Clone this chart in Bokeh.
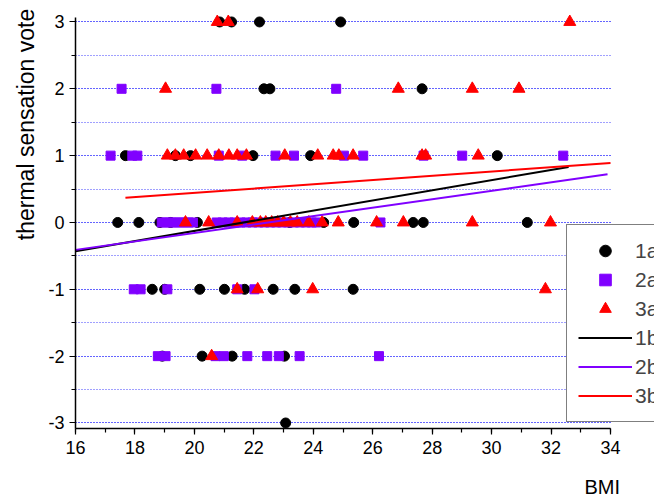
import math
from bokeh.plotting import figure
from bokeh.models import (Legend, LegendItem, Label, SingleIntervalTicker, Range1d,
                          PrintfTickFormatter)
from bokeh.embed import file_html
from bokeh.resources import INLINE

# ---- data ----
bmi_1a = [20.85, 21.25, 22.19, 24.92,
          22.34, 22.54, 27.66,
          17.68, 19.36, 19.87, 21.97, 23.91, 30.19,
          17.42, 18.13, 18.84, 19.2, 20.1, 23.21, 24.35, 25.36, 27.36, 27.70, 31.2,
          18.58, 19.0, 20.18, 21.01, 21.69, 22.65, 23.38, 25.34,
          18.92, 20.26, 21.27, 23.03,
          23.07]
tsv_1a = [3, 3, 3, 3,
          2, 2, 2,
          1, 1, 1, 1, 1, 1,
          0, 0, 0, 0, 0, 0, 0, 0, 0, 0, 0,
          -1, -1, -1, -1, -1, -1, -1, -1,
          -2, -2, -2, -2,
          -3]

bmi_2a = [17.55, 20.74, 24.77,
          17.18, 17.91, 18.08, 20.82, 21.61, 22.73, 23.35, 25.03, 25.68, 27.71, 29.01, 32.41,
          18.9, 19.05, 19.2, 19.35, 19.5, 19.65, 19.8, 19.95,
          20.75, 20.95, 21.15, 21.35, 21.55, 21.75, 21.95, 22.15, 22.35, 22.55, 22.75,
          22.95, 23.15, 23.35, 23.55, 23.75, 23.95, 24.1, 26.26,
          17.96, 18.19, 19.09, 21.44, 22.02,
          18.77, 19.03, 20.71, 20.99, 21.78, 22.45, 22.84, 23.54, 26.21]
tsv_2a = [2, 2, 2,
          1, 1, 1, 1, 1, 1, 1, 1, 1, 1, 1, 1,
          0, 0, 0, 0, 0, 0, 0, 0,
          0, 0, 0, 0, 0, 0, 0, 0, 0, 0, 0,
          0, 0, 0, 0, 0, 0, 0, 0,
          -1, -1, -1, -1, -1,
          -2, -2, -2, -2, -2, -2, -2, -2, -2]

bmi_3a = [20.77, 21.14, 32.63,
          19.03, 26.86, 29.35, 30.92,
          19.09, 19.36, 19.64, 20.04, 20.43, 20.82, 21.16, 21.44, 21.75, 23.04,
          24.15, 24.67, 24.86, 25.34, 27.66, 27.78, 29.55,
          19.7, 20.48, 21.44, 21.95, 22.22, 22.4, 22.6, 22.8, 23.0, 23.23, 23.46,
          23.85, 24.3, 24.84, 26.13, 27.03, 29.35, 31.98,
          21.44, 22.13, 23.98, 31.81,
          20.58]
tsv_3a = [3, 3, 3,
          2, 2, 2, 2,
          1, 1, 1, 1, 1, 1, 1, 1, 1, 1,
          1, 1, 1, 1, 1, 1, 1,
          0, 0, 0, 0, 0, 0, 0, 0, 0, 0, 0,
          0, 0, 0, 0, 0, 0, 0,
          -1, -1, -1, -1,
          -2]

fit_1b_x = [16.0, 32.59]
fit_1b_y = [-0.43, 0.83]
fit_2b_x = [16.0, 33.9]
fit_2b_y = [-0.41, 0.72]
fit_3b_x = [17.68, 34.0]
fit_3b_y = [0.37, 0.89]

series_names = ["1a", "2a", "3a", "1b", "2b", "3b"]
x_title = "BMI"
y_title = "thermal sensation vote"

BLACK = "#000000"
PURPLE = "#8000ff"
RED = "#ff0000"
FONT = "Liberation Sans"

# axis extents (data units); the frame covers the whole canvas so that the
# legend, tick labels and titles can sit where the original puts them
X0, X1 = 16, 34
Y0, Y1 = -3.082, 3.067

W, H = 654, 496
p = figure(width=W, height=H, output_backend="svg", toolbar_location=None,
           x_range=Range1d(13.476, 35.48), y_range=Range1d(-4.10, 3.321))
p.min_border_left = 0
p.min_border_right = 0
p.min_border_top = 0
p.min_border_bottom = 0
p.outline_line_color = None
p.background_fill_color = "white"
p.border_fill_color = "white"

# axes
p.xaxis.ticker = SingleIntervalTicker(interval=2, num_minor_ticks=2)
p.yaxis.ticker = SingleIntervalTicker(interval=1, num_minor_ticks=2)
p.xaxis.bounds = (X0, X1)
p.yaxis.bounds = (Y0, Y1)
p.xaxis.fixed_location = Y0
p.yaxis.fixed_location = X0
for ax in (p.xaxis[0], p.yaxis[0]):
    ax.formatter = PrintfTickFormatter(format="%d")
    ax.axis_line_color = "#000000"
    ax.axis_line_width = 1.5
    ax.major_tick_line_color = "#000000"
    ax.minor_tick_line_color = "#000000"
    ax.major_tick_line_width = 1.2
    ax.minor_tick_line_width = 1.2
    ax.major_tick_out = 6
    ax.major_tick_in = 0
    ax.minor_tick_out = 4
    ax.minor_tick_in = 0
    ax.major_label_text_font = FONT
    ax.major_label_text_font_size = "18px"
    ax.major_label_text_color = "#000000"
p.xaxis.major_label_standoff = 7
p.yaxis.major_label_standoff = 5

# grid
p.xgrid.grid_line_color = None
p.ygrid.grid_line_color = "#0000ff"
p.ygrid.grid_line_dash = "1 2"
p.ygrid.grid_line_width = 1
p.ygrid.grid_line_alpha = 0.75
p.ygrid.minor_grid_line_color = "#0000ff"
p.ygrid.minor_grid_line_dash = "1 2"
p.ygrid.minor_grid_line_alpha = 0.75
p.ygrid.cross_bounds = (X0, X1)
p.ygrid.bounds = (-3, 3)

# scatter
r1a = p.scatter(bmi_1a, tsv_1a, marker="circle", size=10, color=BLACK)
r2a = p.scatter(bmi_2a, tsv_2a, marker="square", size=9, color=PURPLE)
r3a = p.scatter(bmi_3a, tsv_3a, marker="triangle", size=12, color=RED)

# fit lines
r1b = p.line(fit_1b_x, fit_1b_y, line_color=BLACK, line_width=2)
r2b = p.line(fit_2b_x, fit_2b_y, line_color=PURPLE, line_width=2)
r3b = p.line(fit_3b_x, fit_3b_y, line_color=RED, line_width=2)

renderers = [r1a, r2a, r3a, r1b, r2b, r3b]
legend = Legend(items=[LegendItem(label=n, renderers=[r]) for n, r in zip(series_names, renderers)],
                location=(566, 74))
legend.border_line_color = "#000000"
legend.border_line_width = 1.2
legend.background_fill_color = "white"
legend.background_fill_alpha = 1
legend.label_text_font = FONT
legend.label_text_font_size = "21px"
legend.glyph_width = 54
legend.glyph_height = 29
legend.label_height = 29
legend.spacing = 0
legend.padding = 11
legend.margin = 0
legend.label_standoff = 3
p.add_layout(legend, "center")

# axis titles
ylab = Label(x=14.318, y=1.466, text=y_title, angle=math.pi / 2,
             text_align="center", text_baseline="middle",
             text_font=FONT, text_font_size="23px", text_color="#000000")
p.add_layout(ylab)
xlab = Label(x=33.72, y=-3.955, text=x_title, text_align="center", text_baseline="middle",
             text_font=FONT, text_font_size="20px", text_color="#000000")
p.add_layout(xlab)

open("out.html", "w").write(file_html(p, INLINE))
